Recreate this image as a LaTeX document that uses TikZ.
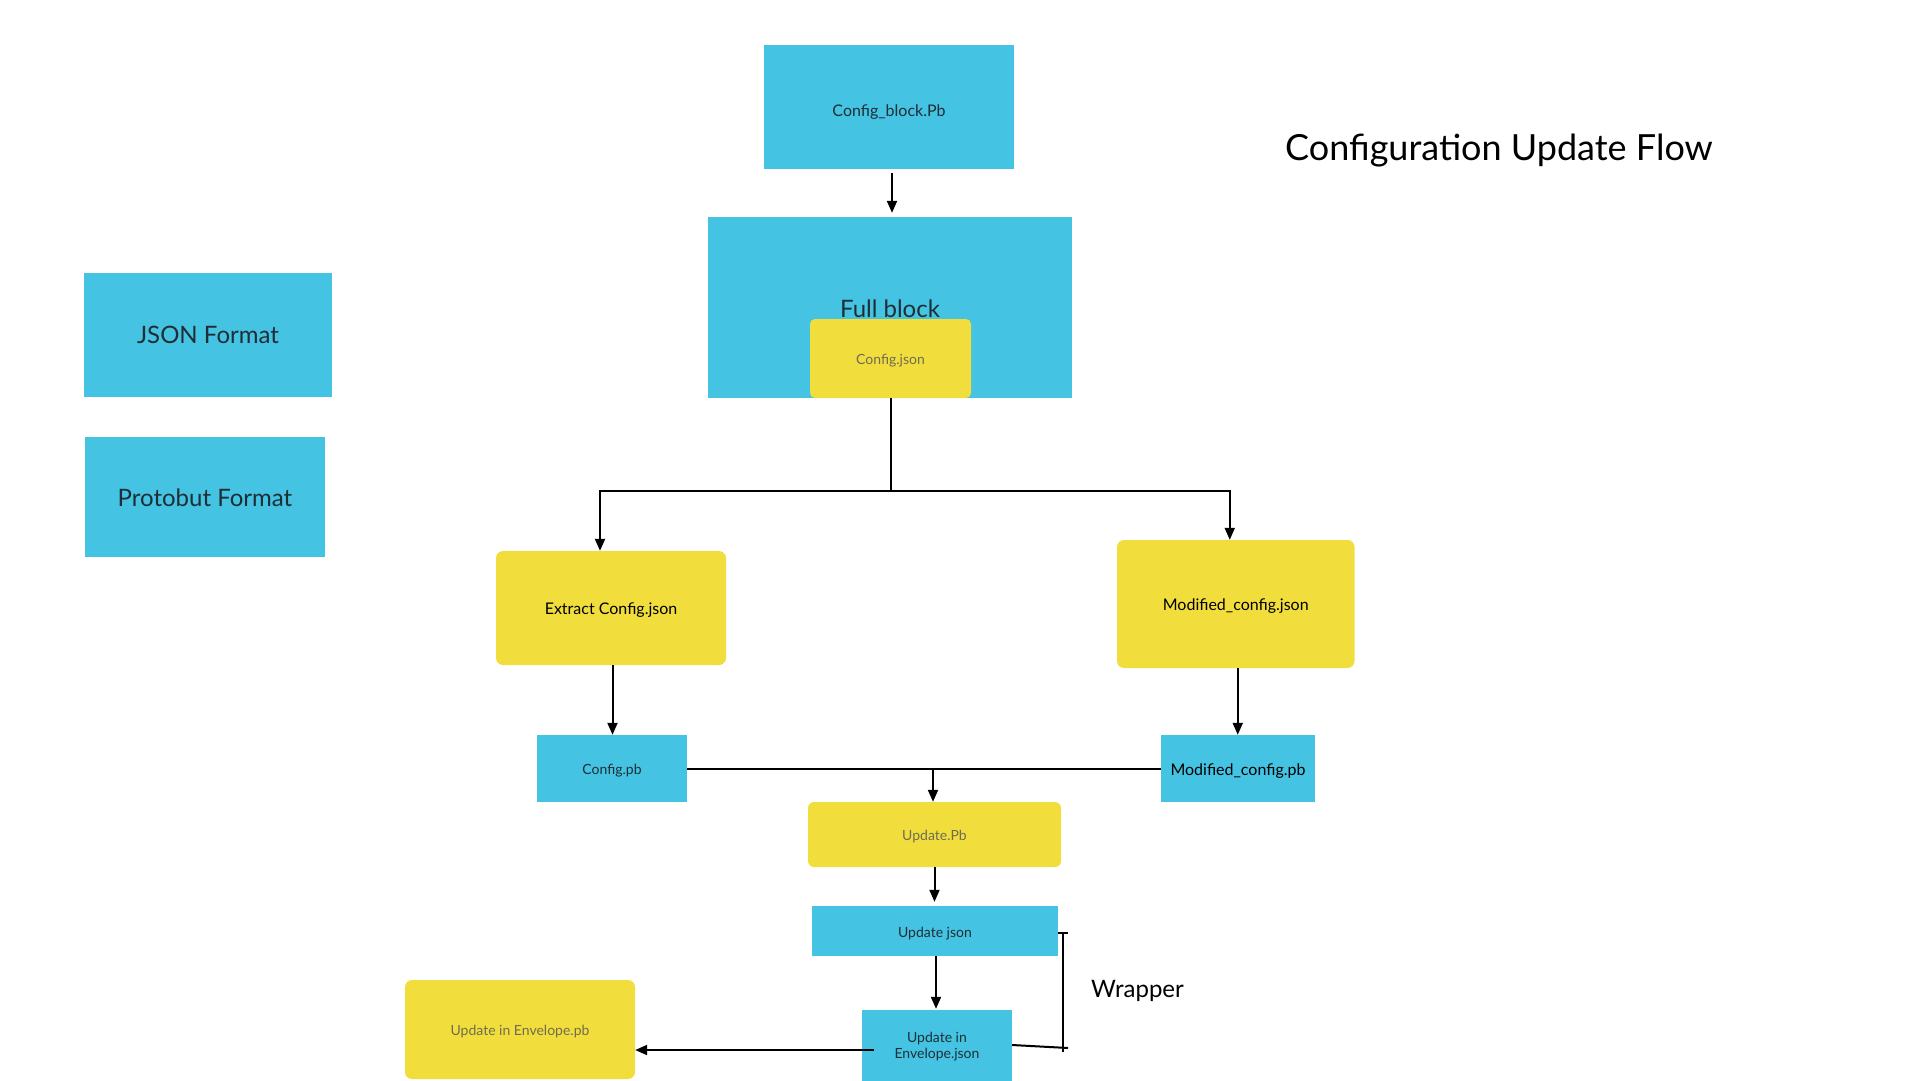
\documentclass[tikz,border=0pt]{standalone}
\usepackage{fontspec}
\setmainfont{Lato}
\usetikzlibrary{arrows.meta,calc}
\definecolor{lblue}{HTML}{44C3E3}
\definecolor{lyellow}{HTML}{F1DE3D}
\definecolor{dtext}{HTML}{1F2E35}
\definecolor{gtext}{HTML}{6F6C52}
\begin{document}
\begin{tikzpicture}[x=1pt,y=-1pt,
  bluebox/.style={fill=lblue, draw=none, inner sep=0pt, text=dtext, align=center},
  yelbox/.style={fill=lyellow, draw=none, inner sep=0pt, rounded corners=7pt, align=center},
  arr/.style={line width=2pt, -{Triangle[length=12pt,width=10pt]}},
  conn/.style={line width=2pt},
  small/.style={font=\fontsize{14}{16}\selectfont, text height=12.5pt, text depth=0pt},
  medium/.style={font=\fontsize{16}{18}\selectfont, text height=13.5pt, text depth=0pt},
  big/.style={font=\fontsize{24}{28}\selectfont, text height=20pt, text depth=0pt}]
\useasboundingbox (0,0) rectangle (1920,1080);
\fill[white] (0,0) rectangle (1920,1080);
\clip (0,0) rectangle (1920,1080);

% legend
\node[bluebox, big, text height=17.5pt, minimum width=248pt, minimum height=124pt] (json) at (208,335) {JSON Format};
\node[bluebox, big, text depth=2pt, minimum width=240pt, minimum height=120pt] (proto) at (205,497) {Protobut Format};

% title
\node[anchor=base west, inner sep=0pt, font=\fontsize{36}{42}\selectfont] (title) at (1285,160) {Configuration Update Flow};

% top
\node[bluebox, medium, text height=18pt, minimum width=250pt, minimum height=124pt] (cb) at (889,107) {Config\_block.Pb};
\node[bluebox, big, minimum width=364pt, minimum height=181pt] (fb) at (890,307.5) {Full block};
\node[yelbox, small, text=gtext, rounded corners=5pt, minimum width=161pt, minimum height=79pt] (cj) at (890.5,358.5) {Config.json};

% middle
\node[yelbox, medium, minimum width=230pt, minimum height=114pt] (ext) at (611,608) {Extract Config.json};
\node[yelbox, medium, minimum width=237.5pt, minimum height=128pt] (mod) at (1235.75,604) {Modified\_config.json};
\node[bluebox, small, minimum width=150pt, minimum height=67pt] (cpb) at (612,768.5) {Config.pb};
\node[bluebox, medium, text=black, minimum width=154pt, minimum height=67pt] (mpb) at (1238,768.5) {Modified\_config.pb};

% bottom
\node[yelbox, small, text=gtext, rounded corners=6pt, minimum width=253pt, minimum height=65pt] (upb) at (934.5,834.5) {Update.Pb};
\node[bluebox, small, minimum width=246pt, minimum height=50pt] (uj) at (935,931) {Update json};
\node[bluebox, small, text height=25pt, minimum width=150pt, minimum height=72pt] (envj) at (937,1046) {Update in\\Envelope.json};
\node[yelbox, small, text=gtext, minimum width=230pt, minimum height=99pt] (envpb) at (520,1029.5) {Update in Envelope.pb};
\node[anchor=base west, inner sep=0pt, font=\fontsize{24}{28}\selectfont] (wrap) at (1091,997) {Wrapper};

% connectors
\draw[arr, shorten <=4pt, shorten >=4pt] ([xshift=3pt]cb.south) -- ([xshift=3pt]cb.south |- fb.north);
\coordinate (fork) at ($(cj.south)+(0,93)$);
\draw[conn] (cj.south) -- (fork);
\draw[arr] (fork) -| ([xshift=-11pt]ext.north);
\draw[arr] (fork) -| ([xshift=-6pt]mod.north);
\draw[arr] ([xshift=1.5pt]ext.south) -- ([xshift=1.5pt]ext.south |- cpb.north);
\draw[arr] ([xshift=2pt]mod.south) -- ([xshift=2pt]mod.south |- mpb.north);
\draw[conn] (cpb.east) -- (mpb.west);
\coordinate (merge) at (cpb.east -| upb.north);
\draw[arr] ([xshift=-1.5pt]merge) -- ([xshift=-1.5pt]upb.north);
\draw[arr, shorten >=4pt] (upb.south) -- (upb.south |- uj.north);
\draw[arr, shorten >=1pt] ([xshift=1pt]uj.south) -- ([xshift=1pt]uj.south |- envj.north);
\coordinate (envl) at ([xshift=12pt,yshift=-4pt]envj.west);
\draw[arr] (envl) -- (envl -| envpb.east);

% wrapper bracket
\coordinate (btop) at (1063,933);
\coordinate (bbot) at (1063,1047);
\draw[conn] ([yshift=-2pt]uj.east) -- ($(btop)+(5,0)$);
\draw[conn] (btop) -- ($(bbot)+(0,5)$);
\draw[conn] ([yshift=1pt]envj.east) -- ($(bbot)+(5,1)$);
\end{tikzpicture}
\end{document}
